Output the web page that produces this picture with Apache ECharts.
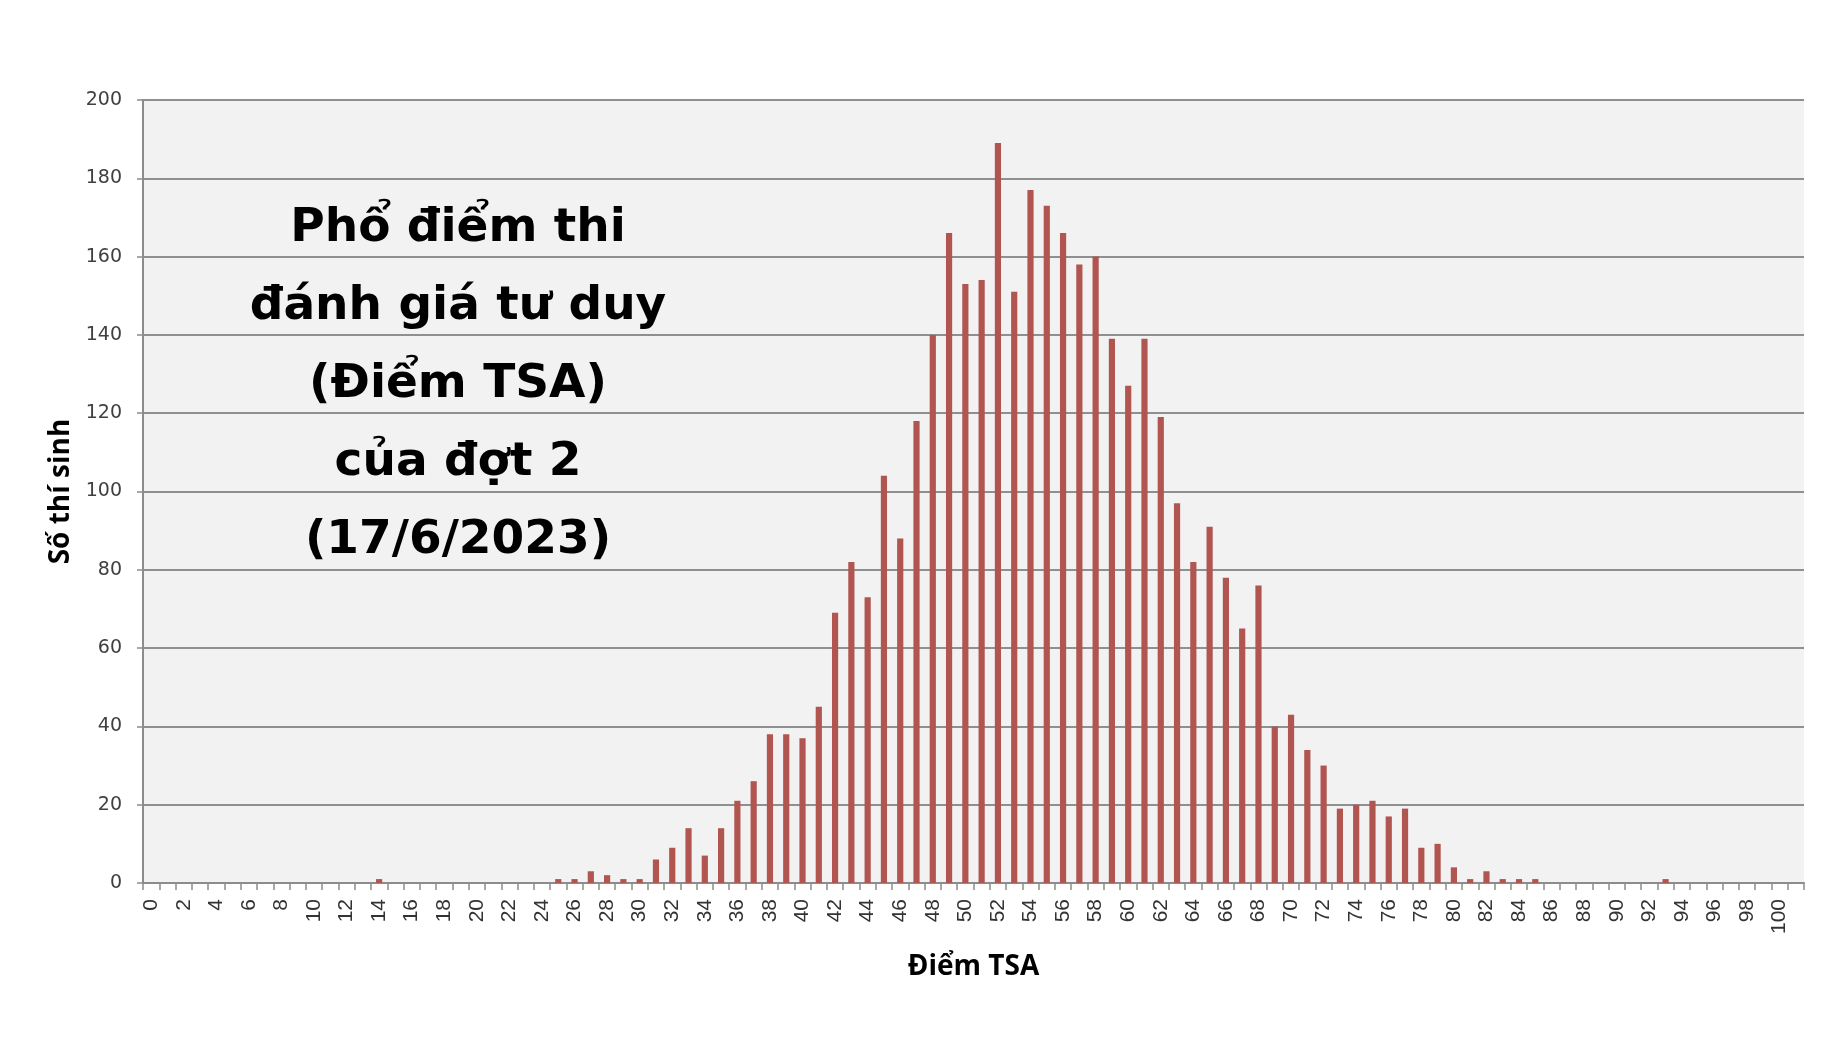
<!DOCTYPE html>
<html>
<head>
<meta charset="utf-8">
<script src="https://cdn.jsdelivr.net/npm/echarts@6/dist/echarts.min.js"></script>
<style>
html,body{margin:0;padding:0;background:#fff;}
#c{width:1826px;height:1039px;}
</style>
</head>
<body>
<div id="c"></div>
<script>
// Score categories 0..100
const scores = [];
for (let i = 0; i <= 100; i++) scores.push(String(i));

// Number of candidates per score
const counts = [
  0,0,0,0,0,0,0,0,0,0,          // 0-9
  0,0,0,0,1,0,0,0,0,0,          // 10-19
  0,0,0,0,0,1,1,3,2,1,          // 20-29
  1,6,9,14,7,14,21,26,38,38,    // 30-39
  37,45,69,82,73,104,88,118,140,166, // 40-49
  153,154,189,151,177,173,166,158,160,139, // 50-59
  127,139,119,97,82,91,78,65,76,40, // 60-69
  43,34,30,19,20,21,17,19,9,10, // 70-79
  4,1,3,1,1,1,0,0,0,0,          // 80-89
  0,0,0,1,0,0,0,0,0,0,          // 90-99
  0                             // 100
];

const titleLines = ['Phổ điểm thi', 'đánh giá tư duy', '(Điểm TSA)', 'của đợt 2', '(17/6/2023)'];
const xTitle = 'Điểm TSA';
const yTitle = 'Số thí sinh';

const chart = echarts.init(document.getElementById('c'));
chart.setOption({
  backgroundColor: '#ffffff',
  animation: false,
  grid: {
    left: 143, right: 22, top: 100, bottom: 156,
    show: true, backgroundColor: '#f2f2f2', borderWidth: 0
  },
  xAxis: {
    type: 'category',
    data: scores,
    max: 101,
    boundaryGap: true,
    axisLine: { lineStyle: { color: '#8c8c8c', width: 2 } },
    axisTick: { show: true, interval: 0, length: 7, lineStyle: { color: '#8c8c8c', width: 1.5 } },
    axisLabel: {
      interval: 1, rotate: 90, margin: 16,
      fontFamily: '"Liberation Sans", Arial, sans-serif', fontSize: 21, color: '#333'
    },
    splitLine: { show: false },
    name: xTitle,
    nameLocation: 'middle',
    nameGap: 70,
    nameTextStyle: {
      fontFamily: '"Liberation Sans Narrow", "Open Sans", sans-serif',
      fontWeight: 'bold', fontSize: 28, color: '#000'
    }
  },
  yAxis: {
    type: 'value',
    min: 0, max: 200, interval: 20,
    axisLine: { show: true, lineStyle: { color: '#8c8c8c', width: 2 } },
    axisTick: { show: true, length: 6, lineStyle: { color: '#8c8c8c', width: 1.5 } },
    axisLabel: {
      margin: 21, fontFamily: '"DejaVu Sans", Verdana, sans-serif', fontSize: 19, color: '#404040'
    },
    splitLine: { show: true, lineStyle: { color: '#8f8f8f', width: 1.8 } },
    name: yTitle,
    nameLocation: 'middle',
    nameRotate: 90,
    nameGap: 65,
    nameTextStyle: {
      fontFamily: '"Liberation Sans Narrow", "Open Sans", sans-serif',
      fontWeight: 'bold', fontSize: 28, color: '#000'
    }
  },
  series: [{
    type: 'bar',
    data: counts,
    barCategoryGap: '62%',
    itemStyle: { color: '#b0554f' }
  }],
  graphic: [{
    type: 'text',
    x: 458, y: 190,
    style: {
      text: titleLines.join('\n'),
      textAlign: 'center',
      textVerticalAlign: 'top',
      font: 'bold 47px "DejaVu Sans", sans-serif',
      lineHeight: 78,
      fill: '#000'
    }
  }]
});
</script>
</body>
</html>
